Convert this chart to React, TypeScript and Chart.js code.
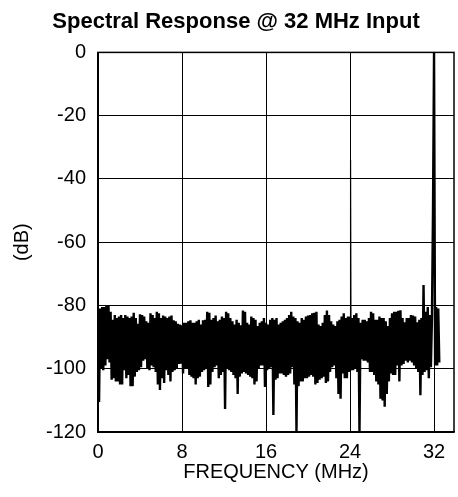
import React, { useEffect, useRef } from "react";
import { Chart, registerables } from "chart.js";

Chart.register(...registerables);

const TITLE = "Spectral Response @ 32 MHz Input";
const X_TITLE = "FREQUENCY (MHz)";
const Y_TITLE = "(dB)";
const xTicks = [0, 8, 16, 24, 32];
const yTicks = [-120, -100, -80, -60, -40, -20, 0];
const xMax = 33.9;
const binStep = 0.2; // MHz between successive peak readings (troughs sit halfway)

// upper envelope of the noise floor, dB, at 0, 0.2, 0.4 ... MHz
const noiseHigh = [
  -81, -81, -80.5, -80.5, -80, -80.2, -82, -84.5, -83, -84,
  -83.5, -83, -84, -83, -83.5, -84, -83.5, -82.3, -84, -85.8,
  -82.8, -83, -83.5, -85, -85.5, -82.5, -83, -84, -82, -82.5,
  -84, -83.2, -83.5, -84, -83.5, -83.2, -84.7, -85, -85.8, -86,
  -86.3, -85.5, -85.5, -85, -84.7, -85.5, -85.5, -85, -84.5, -86,
  -84.7, -84.5, -82, -82.3, -84.5, -84, -83.2, -85, -84.5, -83.5,
  -84, -82, -82.5, -84, -85, -86, -84.5, -85.5, -86.3, -81.6,
  -82, -85.5, -86, -83.5, -84, -84.5, -86.5, -85.5, -85, -84,
  -85.5, -86, -84.5, -84, -84.5, -84, -86, -85.5, -85, -84.5,
  -84, -83, -82, -83.5, -84, -85, -85.5, -84, -84.5, -83.5,
  -83.2, -83, -82.5, -82.3, -82, -86, -86.5, -85.5, -83, -81.6,
  -83, -85, -86, -86.5, -85, -84.5, -83.5, -82.5, -84, -83.5,
  -83.5, -84, -83, -82.5, -84, -85.5, -84.5, -84.5, -85, -84,
  -82, -82.5, -84.5, -84.5, -83.5, -84, -84, -85, -86.5, -84,
  -82.5, -82, -82, -81.7, -81.5, -84, -85.3, -84, -84, -83,
  -83.2, -83.5, -85.3, -84.5, -84, -82, -82, -80.5, -83, -84,
  -83, -80.5, -81,
];

// lower envelope of the noise floor, dB, at 0.1, 0.3, 0.5 ... MHz
const noiseLow = [
  -110.5, -100, -100.5, -99, -97, -98, -103.5, -103, -104, -104,
  -105, -105, -100.5, -103, -102, -105.5, -105.5, -102.5, -101, -100.5,
  -99.5, -97.5, -97, -100, -100.5, -99, -99.5, -101, -105, -106.7,
  -103, -104.5, -100.5, -102, -104, -101, -100.5, -100, -98.5, -98.4,
  -101.5, -100, -100, -102, -102.5, -103, -105, -103, -102.5, -101,
  -100.5, -100, -105.8, -105, -101, -99.5, -99, -103, -102, -101,
  -112.7, -100, -100.5, -101, -102, -103, -108, -102.5, -101.5, -101,
  -101.5, -102, -102.5, -103, -105, -104, -100, -99, -99, -105.8,
  -100.5, -100, -99.5, -114.6, -103.5, -103, -101.5, -101.5, -102, -102.5,
  -102, -101.5, -99.5, -105, -120, -105.5, -104, -104, -103, -103,
  -102.5, -102, -102.5, -105, -104.5, -103.5, -103, -102.5, -104.5, -104,
  -101, -99.5, -99, -103, -108, -109.5, -101.5, -103, -103, -101,
  -100.5, -100.5, -100, -101, -120, -97, -97.5, -97.5, -98, -101,
  -101, -102, -104, -105, -109.5, -110, -112, -108, -104, -101.5,
  -102, -102, -99, -104, -99, -98.5, -97.5, -98, -97.5, -98,
  -99, -100, -101, -108.4, -102, -101, -100.5, -103, -99.5, -99,
  -99, -99, -98,
];

// discrete spurs and the fundamental
const spurFreqs = [24.05, 31.0, 31.9, 32.0];
const spurLevels = [-34, -73.5, -50, 0];
const thinSpur = spurFreqs[0];

function buildPoints() {
  const key = (f: number) => Math.round(f * 100) / 100;
  const m = new Map<number, number>();
  noiseHigh.forEach((v, i) => m.set(key(i * binStep), v));
  noiseLow.forEach((v, i) => m.set(key(i * binStep + binStep / 2), v));
  spurFreqs.forEach((f, i) => m.set(key(f), spurLevels[i]));
  return [...m.entries()].sort((a, b) => a[0] - b[0]).map(([x, y]) => ({ x, y }));
}

const FONT = "'Liberation Sans', Arial, Helvetica, sans-serif";

const frame = {
  id: "frame",
  afterDraw(chart: any) {
    const { ctx, chartArea: a } = chart;
    ctx.save();
    ctx.strokeStyle = "#000";
    ctx.lineWidth = 1.5;
    ctx.strokeRect(a.left, a.top, a.right - a.left, a.bottom - a.top);
    ctx.restore();
  },
};

export default function App() {
  const ref = useRef<HTMLCanvasElement | null>(null);
  useEffect(() => {
    if (!ref.current) return;
    const chart = new Chart(ref.current, {
      type: "line",
      data: {
        datasets: [
          {
            data: buildPoints(),
            borderColor: "#000",
            borderWidth: 2.4,
            borderJoinStyle: "bevel",
            pointRadius: 0,
            fill: false,
            tension: 0,
            segment: {
              borderWidth: (c: any) =>
                Math.abs(c.p0.parsed.x - thinSpur) < 1e-6 || Math.abs(c.p1.parsed.x - thinSpur) < 1e-6
                  ? 1.2
                  : undefined,
            },
          },
        ],
      },
      options: {
        animation: false,
        responsive: true,
        maintainAspectRatio: false,
        layout: { padding: { left: 18, right: 4, top: 0, bottom: 0 } },
        plugins: {
          legend: { display: false },
          tooltip: { enabled: false },
          title: {
            display: true,
            text: TITLE,
            color: "#000",
            font: { family: FONT, size: 22, weight: "bold" },
            padding: { top: 9, bottom: 17 },
          },
        },
        scales: {
          x: {
            type: "linear",
            min: 0,
            max: xMax,
            afterBuildTicks: (s: any) => {
              s.ticks = xTicks.map((v) => ({ value: v }));
            },
            afterFit: (s: any) => {
              s.height = 65;
            },
            ticks: { color: "#000", font: { family: FONT, size: 20 }, padding: 8, maxRotation: 0 },
            grid: { color: "#000", lineWidth: 1, drawTicks: false },
            border: { color: "#000", width: 1.5 },
            title: {
              display: true,
              text: X_TITLE,
              color: "#000",
              font: { family: FONT, size: 20 },
              padding: { top: 0, bottom: 13 },
            },
          },
          y: {
            type: "linear",
            min: -120,
            max: 0,
            afterBuildTicks: (s: any) => {
              s.ticks = yTicks.map((v) => ({ value: v }));
            },
            afterFit: (s: any) => {
              s.width = 80;
            },
            ticks: { color: "#000", font: { family: FONT, size: 20 }, padding: 12 },
            grid: { color: "#000", lineWidth: 1, drawTicks: false },
            border: { color: "#000", width: 1.5 },
            title: {
              display: true,
              text: Y_TITLE,
              color: "#000",
              font: { family: FONT, size: 20 },
              padding: { top: -8, bottom: 0 },
            },
          },
        },
      },
      plugins: [frame],
    } as any);
    return () => chart.destroy();
  }, []);
  return (
    <div style={{ position: "fixed", left: 0, top: 0, width: 458, height: 497, background: "#fff" }}>
      <canvas ref={ref} />
    </div>
  );
}
